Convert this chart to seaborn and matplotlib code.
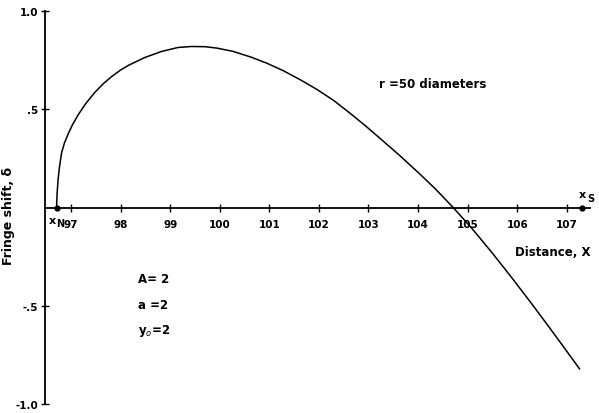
import numpy as np
import pandas as pd
import matplotlib
matplotlib.use("Agg")
import matplotlib.pyplot as plt
import seaborn as sns

# fringe shift curve
distance = [96.71, 96.72, 96.74, 96.77, 96.81, 96.87, 96.95, 97.04, 97.15,
            97.3, 97.48, 97.65, 97.82, 98.0, 98.16, 98.49, 98.83, 99.16,
            99.43, 99.7, 99.94, 100.27, 100.63, 100.95, 101.28, 101.63,
            101.95, 102.3, 102.63, 102.95, 103.23, 103.63, 104.04, 104.35,
            104.71, 105.1, 105.5, 105.9, 106.3, 106.63, 106.95, 107.26]
shift = [0.0, 0.07, 0.142, 0.21, 0.278, 0.33, 0.379, 0.426, 0.474,
         0.53, 0.586, 0.63, 0.667, 0.70, 0.724, 0.764, 0.795, 0.815,
         0.82, 0.819, 0.812, 0.795, 0.766, 0.735, 0.697, 0.65,
         0.603, 0.545, 0.48, 0.414, 0.353, 0.265, 0.17, 0.095,
         0.0, -0.11, -0.232, -0.36, -0.492, -0.604, -0.714, -0.822]

x_ticks = [97, 98, 99, 100, 101, 102, 103, 104, 105, 106, 107]
y_ticks = [-1.0, -0.5, 0.5, 1.0]
y_labels = ["-1.0", "-.5", ".5", "1.0"]
x_n, x_s = 96.71, 107.30

df = pd.DataFrame({"distance": distance, "shift": shift})

sns.set_style("white")
plt.rcParams["font.family"] = ["DejaVu Sans"]
plt.rcParams["text.color"] = "black"
plt.rcParams["xtick.color"] = "black"
plt.rcParams["ytick.color"] = "black"
plt.rcParams["axes.labelcolor"] = "black"

fig = plt.figure(figsize=(5.99, 4.14), dpi=100)
ax = fig.add_axes([0.0751, 0.0217, 0.910, 0.949])

sns.lineplot(data=df, x="distance", y="shift", ax=ax, color="black",
             linewidth=1.1, sort=False)

ax.set_xlim(96.476, 107.47)
ax.set_ylim(-1.0, 1.0)

# axes drawn like the original: y spine at left, x axis through zero
ax.spines["top"].set_visible(False)
ax.spines["right"].set_visible(False)
ax.spines["bottom"].set_position(("data", 0))
ax.spines["left"].set_linewidth(1.3)
ax.spines["bottom"].set_linewidth(1.3)
ax.spines["left"].set_color("black")
ax.spines["bottom"].set_color("black")

ax.set_xticks(x_ticks)
ax.set_xticklabels([str(t) for t in x_ticks], fontsize=7.5, fontweight="bold")
ax.set_yticks(y_ticks)
ax.set_yticklabels(y_labels, fontsize=7.5, fontweight="bold")
ax.tick_params(axis="both", direction="inout", length=6, width=1, color="black",
               bottom=True, left=True, pad=2)
ax.tick_params(axis="x", pad=5)

ax.set_xlabel("")
ax.set_ylabel("Fringe shift, δ", fontsize=9, fontweight="bold")
ax.yaxis.set_label_coords(-0.055, 0.48)

# end points
ax.plot([x_n, x_s], [0, 0], "o", color="black", markersize=3.5, clip_on=False)
ax.text(x_n - 0.02, -0.065, "x", fontsize=8, fontweight="bold", ha="right", va="center")
ax.text(x_n + 0.0, -0.08, "N", fontsize=7, fontweight="bold", ha="left", va="center")
ax.text(x_s + 0.02, 0.045, "x", fontsize=8, fontweight="bold", ha="center", va="bottom")
ax.text(x_s + 0.12, 0.025, "S", fontsize=7, fontweight="bold", ha="left", va="bottom")

ax.text(107.47, -0.225, "Distance, X", fontsize=8.5, fontweight="bold",
        ha="right", va="center")
ax.text(104.3, 0.63, "r =50 diameters", fontsize=8.5, fontweight="bold",
        ha="center", va="center")
ax.text(98.35, -0.36, "A= 2", fontsize=8.5, fontweight="bold", ha="left", va="center")
ax.text(98.35, -0.495, "a =2", fontsize=8.5, fontweight="bold", ha="left", va="center")
ax.text(98.35, -0.625, "y$_o$=2", fontsize=8.5, fontweight="bold", ha="left", va="center")

fig.savefig("out.png", dpi=100)
